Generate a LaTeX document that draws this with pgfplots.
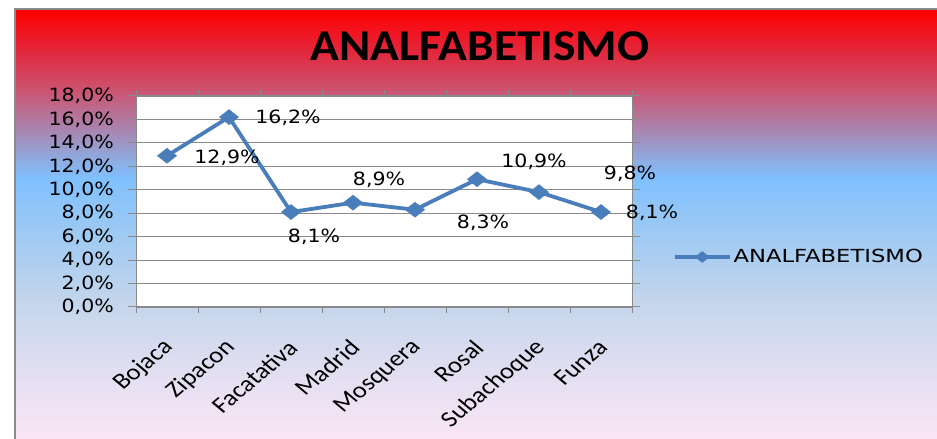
\documentclass[border=0pt]{standalone}
\usepackage{pgfplots}
\pgfplotsset{compat=1.18}
\usepackage{pgfplotstable}
\usepackage{fontspec}
\setmainfont{DejaVu Sans}
\newfontfamily\carlito{Carlito}

\definecolor{serie}{HTML}{4A7EBB}
\definecolor{rejilla}{HTML}{8A8A8A}
\definecolor{c0}{HTML}{FF0000}
\definecolor{c1}{HTML}{E3263A}
\definecolor{c2}{HTML}{CC5472}
\definecolor{c3}{HTML}{AD7FA8}
\definecolor{c4}{HTML}{92A6DA}
\definecolor{c5}{HTML}{80C0FF}
\definecolor{c6}{HTML}{9CC9F3}
\definecolor{c7}{HTML}{C3D5EC}
\definecolor{c8}{HTML}{DDDDF0}
\definecolor{c9}{HTML}{FAE6F6}

% x = municipio (0..7), y = porcentaje, dx/dy = desplazamiento de la etiqueta
\pgfplotstableread{
x y    dx  dy
0 12.9 60  -2
1 16.2 59  -1
2 8.1  23  -25
3 8.9  26  23
4 8.3  68  -13
5 10.9 57  17
6 9.8  91  18
7 8.1  51  -1
}\datos

\begin{document}
\begin{tikzpicture}
\useasboundingbox (0pt,0pt) rectangle (937pt,439pt);
\fill[white] (0pt,0pt) rectangle (937pt,439pt);
% fondo degradado
\shade[top color=c0,bottom color=c1] (15pt,388.5pt) rectangle (937pt,430pt);
\shade[top color=c1,bottom color=c2] (15pt,348.5pt) rectangle (937pt,389pt);
\shade[top color=c2,bottom color=c3] (15pt,313.5pt) rectangle (937pt,349pt);
\shade[top color=c3,bottom color=c4] (15pt,283.5pt) rectangle (937pt,314pt);
\shade[top color=c4,bottom color=c5] (15pt,260.5pt) rectangle (937pt,284pt);
\shade[top color=c5,bottom color=c6] (15pt,208.5pt) rectangle (937pt,261pt);
\shade[top color=c6,bottom color=c7] (15pt,138.5pt) rectangle (937pt,209pt);
\shade[top color=c7,bottom color=c8] (15pt,78.5pt) rectangle (937pt,139pt);
\shade[top color=c8,bottom color=c9] (15pt,0pt) rectangle (937pt,79pt);
\draw[rejilla, line width=2pt] (15pt,-5pt) -- (15pt,430pt) -- (945pt,430pt);

\node[font=\carlito\bfseries\fontsize{44}{50}\selectfont, xscale=1.08] at (480pt,392.5pt) {ANALFABETISMO};

\begin{axis}[
  at={(136pt,132pt)}, anchor=south west,
  scale only axis, width=496pt, height=211pt,
  xmin=-0.5, xmax=7.5, ymin=0, ymax=18,
  clip=false,
  axis background/.style={fill=white},
  axis line style={rejilla, line width=1pt},
  tick align=outside,
  xtick={0,...,7},
  xticklabels={Bojaca,Zipacon,Facatativa,Madrid,Mosquera,Rosal,Subachoque,Funza},
  minor xtick={-0.5,0.5,...,7.5},
  major x tick style={draw=none},
  minor tick length=6pt, major tick length=8pt,
  tick style={rejilla, line width=1pt},
  ytick={0,2,...,18},
  ymajorgrids, grid style={rejilla, line width=1.2pt},
  /pgf/number format/assume math mode=true,
  yticklabel={\pgfmathprintnumber[fixed,fixed zerofill,precision=1,use comma]{\tick}\%},
  yticklabel style={font=\fontsize{18.3}{20}\selectfont, anchor=east, inner sep=0pt, xshift=-14pt, xscale=1.12},
  xticklabel style={font=\carlito\fontsize{22.5}{24}\selectfont, anchor=east, inner sep=0pt, xshift=2pt, yshift=-29pt, xscale=1.19, rotate=45},
  legend style={draw=none, fill=none, at={(1.0827,0.237)}, anchor=west,
    font=\fontsize{18}{20}\selectfont, inner sep=0pt, outer sep=0pt,
    nodes={inner sep=0pt}, column sep=2pt},
  legend image code/.code={\draw[mark repeat=2,mark phase=2,#1,line width=3.5pt,mark size=5.5pt]
    plot coordinates {(0pt,0pt)(27.5pt,0pt)(55pt,0pt)};},
]
\addplot[color=serie, line width=3.8pt, mark=diamond*, mark size=7.5pt,
  mark options={fill=serie, draw=serie, line width=0.5pt, xscale=1.7},
  nodes near coords={\pgfmathprintnumber[fixed,fixed zerofill,precision=1,use comma]{\pgfplotspointmeta}\%},
  visualization depends on={\thisrow{dx} \as \dx},
  visualization depends on={\thisrow{dy} \as \dy},
  every node near coord/.append style={anchor=center, xshift=\dx pt, yshift=\dy pt,
    xscale=1.12, font=\fontsize{18.3}{20}\selectfont, text=black}]
  table[x=x,y=y] {\datos};
\addlegendentry{\scalebox{1.26}[1]{ANALFABETISMO}}
\end{axis}
\end{tikzpicture}
\end{document}
